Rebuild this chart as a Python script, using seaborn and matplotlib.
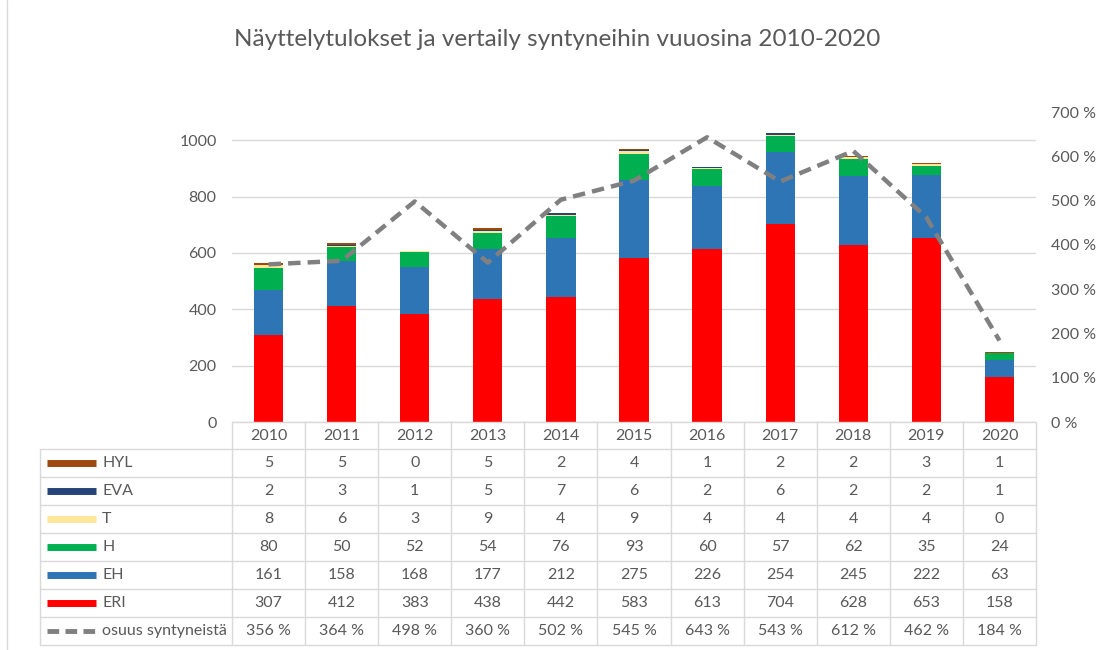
import numpy as np
import pandas as pd
import matplotlib
matplotlib.use("Agg")
import matplotlib.pyplot as plt
import seaborn as sns

years = ["2010", "2011", "2012", "2013", "2014", "2015", "2016", "2017", "2018", "2019", "2020"]
HYL = [5, 5, 0, 5, 2, 4, 1, 2, 2, 3, 1]
EVA = [2, 3, 1, 5, 7, 6, 2, 6, 2, 2, 1]
T = [8, 6, 3, 9, 4, 9, 4, 4, 4, 4, 0]
H = [80, 50, 52, 54, 76, 93, 60, 57, 62, 35, 24]
EH = [161, 158, 168, 177, 212, 275, 226, 254, 245, 222, 63]
ERI = [307, 412, 383, 438, 442, 583, 613, 704, 628, 653, 158]
osuus = [356, 364, 498, 360, 502, 545, 643, 543, 612, 462, 184]

series_names = ["HYL", "EVA", "T", "H", "EH", "ERI"]
series_vals = [HYL, EVA, T, H, EH, ERI]
colors = {"HYL": "#9E480E", "EVA": "#264478", "T": "#FFE699",
          "H": "#00B050", "EH": "#2E75B6", "ERI": "#FF0000"}
line_name = "osuus syntyneistä"
line_color = "#808080"

sns.set_theme(style="white")
plt.rcParams['font.family'] = ['Lato', 'DejaVu Sans']
txt = "#595959"
grid = "#D9D9D9"
fs = 11.5

W, Hpx = 1096, 650
fig = plt.figure(figsize=(W / 100, Hpx / 100), dpi=100)

# pixel layout
x_left, x_right = 232, 1036
y_zero, y_top = 422, 112
ax = fig.add_axes([x_left / W, 1 - y_zero / Hpx, (x_right - x_left) / W, (y_zero - y_top) / Hpx])

# stacked bars (bottom to top: ERI, EH, H, T, EVA, HYL)
bottom = np.zeros(len(years))
for name in ["ERI", "EH", "H", "T", "EVA", "HYL"]:
    vals = np.array(series_vals[series_names.index(name)], dtype=float)
    df = pd.DataFrame({"year": years, "v": vals})
    sns.barplot(data=df, x="year", y="v", color=colors[name], width=0.4,
                bottom=bottom, ax=ax, saturation=1, linewidth=0, zorder=3)
    bottom += vals

ax.set_xlim(-0.5, len(years) - 0.5)
ax.set_ylim(0, 1100)
ax.set_yticks(np.arange(0, 1001, 200))
ax.yaxis.grid(True, color=grid, linewidth=1, zorder=0)
ax.set_axisbelow(True)
ax.set_xlabel("")
ax.set_ylabel("")
ax.set_xticks([])
for s in ax.spines.values():
    s.set_visible(False)
ax.tick_params(axis="y", length=0, labelsize=fs, labelcolor=txt, pad=11)

ax2 = ax.twinx()
sns.lineplot(x=np.arange(len(years)), y=osuus, ax=ax2, color=line_color,
             linewidth=3.2, zorder=5)
ax2.lines[0].set_linestyle((0, (2.8, 1.6)))
ax2.set_ylim(0, 700)
ax2.set_yticks(np.arange(0, 701, 100))
ax2.set_yticklabels([f"{v} %" for v in range(0, 701, 100)])
ax2.tick_params(axis="y", length=0, labelsize=fs, labelcolor=txt, pad=11)
for s in ax2.spines.values():
    s.set_visible(False)
ax2.set_xlim(-0.5, len(years) - 0.5)

# title
fig.text(557 / W, 1 - 40 / Hpx, "Näyttelytulokset ja vertaily syntyneihin vuuosina 2010-2020",
         ha="center", va="center", fontsize=17.5, color=txt)

# data table overlay in pixel coordinates
tb = fig.add_axes([0, 0, 1, 1], zorder=10)
tb.set_xlim(0, W)
tb.set_ylim(Hpx, 0)
tb.axis("off")
tb.patch.set_alpha(0)

n = len(years)
colw = (x_right - x_left) / n
tab_left = 40
row_top = 449
row_h = 28
rows = series_names + [line_name]
tab_bottom = row_top + row_h * len(rows)

# axis line
tb.plot([x_left, x_right], [y_zero, y_zero], color=grid, lw=1)
# vertical column lines
for k in range(n + 1):
    xk = x_left + k * colw
    tb.plot([xk, xk], [y_zero, tab_bottom], color=grid, lw=1)
tb.plot([tab_left, tab_left], [row_top, tab_bottom], color=grid, lw=1)
# horizontal row lines
for r in range(len(rows) + 1):
    yr = row_top + r * row_h
    tb.plot([tab_left, x_right], [yr, yr], color=grid, lw=1)

# header years
for i, yv in enumerate(years):
    tb.text(x_left + (i + 0.5) * colw, (y_zero + row_top) / 2 + 1, yv,
            ha="center", va="center", fontsize=fs, color=txt)

# rows
for r, name in enumerate(rows):
    yc = row_top + (r + 0.5) * row_h
    if name in colors:
        tb.plot([47, 96], [yc, yc], color=colors[name], lw=5, solid_capstyle="butt")
        vals = series_vals[series_names.index(name)]
        labels = [str(v) for v in vals]
    else:
        tb.plot([47, 96], [yc, yc], color=line_color, lw=3.5,
                linestyle=(0, (2.4, 1.3)), solid_capstyle="butt")
        labels = [f"{v} %" for v in osuus]
    tb.text(102, yc, name, ha="left", va="center", fontsize=fs, color=txt)
    for i, lab in enumerate(labels):
        tb.text(x_left + (i + 0.5) * colw, yc, lab, ha="center", va="center",
                fontsize=fs, color=txt)

# outer chart border
tb.plot([7, 7], [0, Hpx], color=grid, lw=1)

fig.savefig("out.png", dpi=100, facecolor="white")
